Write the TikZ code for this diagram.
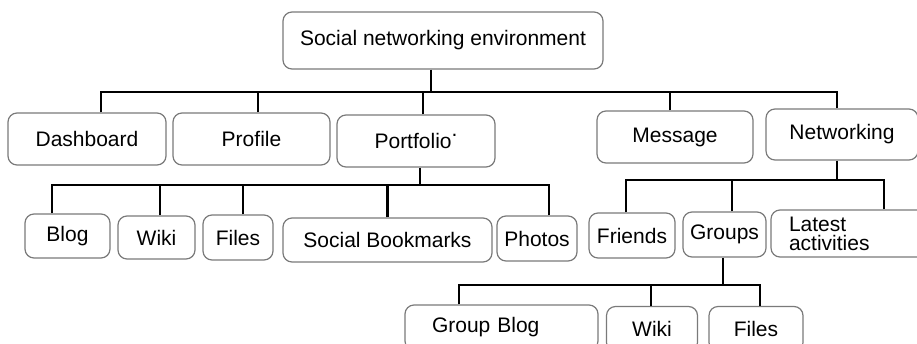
\documentclass[tikz,border=0pt]{standalone}
\usepackage{fontspec}
\setmainfont{Liberation Sans}
\definecolor{boxgray}{HTML}{7A7A7A}
\tikzset{
  treebox/.style={
    rectangle, rounded corners=9pt, draw=boxgray, line width=1.2pt,
    font=\fontsize{21}{22}\selectfont, align=center, inner sep=2pt
  },
  treeline/.style={
    line width=2.6pt, color=black
  },
}

\begin{document}
\begin{tikzpicture}[x=1pt,y=-1pt]
  \clip (0,0) rectangle (917,343);

  % Root
  \node[treebox, minimum width=320pt, minimum height=57pt] (root) at (443,40.5)
    {Social networking environment};

  % First level
  \node[treebox, minimum width=158pt, minimum height=52pt] (dash) at (87,139) {Dashboard};
  \node[treebox, minimum width=157pt, minimum height=52pt] (prof) at (251.5,139) {Profile};
  \node[treebox, minimum width=158pt, minimum height=52pt] (port) at (416,141)
    {Portfolio\raisebox{1.1ex}{.}};
  \node[treebox, minimum width=156pt, minimum height=52pt] (mess) at (675,137) {Message};
  \node[treebox, minimum width=152pt, minimum height=51pt] (netw) at (842,134.5) {Networking};

  % Under Portfolio
  \node[treebox, minimum width=85pt, minimum height=44pt] (blog) at (67.5,236) {Blog};
  \node[treebox, minimum width=77pt, minimum height=43pt] (wikia) at (156.5,237.5) {Wiki};
  \node[treebox, minimum width=70pt, minimum height=45pt] (filesa) at (238,237.5) {Files};
  \node[treebox, minimum width=209pt, minimum height=44pt] (sbook) at (387.5,240) {Social Bookmarks};
  \node[treebox, minimum width=80pt, minimum height=45pt] (photo) at (537,238.5) {Photos};

  % Under Networking
  \node[treebox, minimum width=86pt, minimum height=45pt] (friend) at (632,235.5) {Friends};
  \node[treebox, minimum width=83pt, minimum height=45pt] (groups) at (724.5,234.5) {Groups};
  \node[treebox, align=left, inner xsep=18pt, text width=128pt, minimum height=47pt,
    font=\fontsize{21}{19}\selectfont] (late) at (853,233.5) {Latest\\activities};

  % Under Groups
  \node[treebox, align=left, inner xsep=27pt, text width=139pt, minimum height=45pt]
    (gblog) at (501.5,327.5) {Group Blog};
  \node[treebox, minimum width=91pt, minimum height=45pt] (wikib) at (652,329) {Wiki};
  \node[treebox, minimum width=94pt, minimum height=45pt] (filesb) at (756,329) {Files};

  % Connectors
  \coordinate (rootbus) at (431,92);
  \coordinate (portbus) at (420,185);
  \coordinate (netwbus) at (837,180);
  \coordinate (groupbus) at (723,285);

  \draw[treeline] (root.south -| rootbus) -- (rootbus);
  \draw[treeline] ([xshift=14pt]dash.north) |- (rootbus);
  \draw[treeline] ([xshift=6.5pt]prof.north) |- (rootbus);
  \draw[treeline] ([xshift=7pt]port.north) |- (rootbus);
  \draw[treeline] ([xshift=-5pt]mess.north) |- (rootbus);
  \draw[treeline] ([xshift=-5pt]netw.north) |- (rootbus);

  \draw[treeline] (port.south -| portbus) -- (portbus);
  \draw[treeline] ([xshift=-15.5pt]blog.north) |- (portbus);
  \draw[treeline] ([xshift=3.5pt]wikia.north) |- (portbus);
  \draw[treeline] ([xshift=5pt]filesa.north) |- (portbus);
  \draw[treeline] (sbook.north) |- (portbus);
  \draw[treeline] ([xshift=12pt]photo.north) |- (portbus);

  \draw[treeline] (netw.south -| netwbus) -- (netwbus);
  \draw[treeline] ([xshift=-6pt]friend.north) |- (netwbus);
  \draw[treeline] ([xshift=7.5pt]groups.north) |- (netwbus);
  \draw[treeline] ([xshift=31pt]late.north) |- (netwbus);

  \draw[treeline] (groups.south -| groupbus) -- (groupbus);
  \draw[treeline] ([xshift=-42.5pt]gblog.north) |- (groupbus);
  \draw[treeline] ([xshift=-1pt]wikib.north) |- (groupbus);
  \draw[treeline] ([xshift=4pt]filesb.north) |- (groupbus);
\end{tikzpicture}
\end{document}
